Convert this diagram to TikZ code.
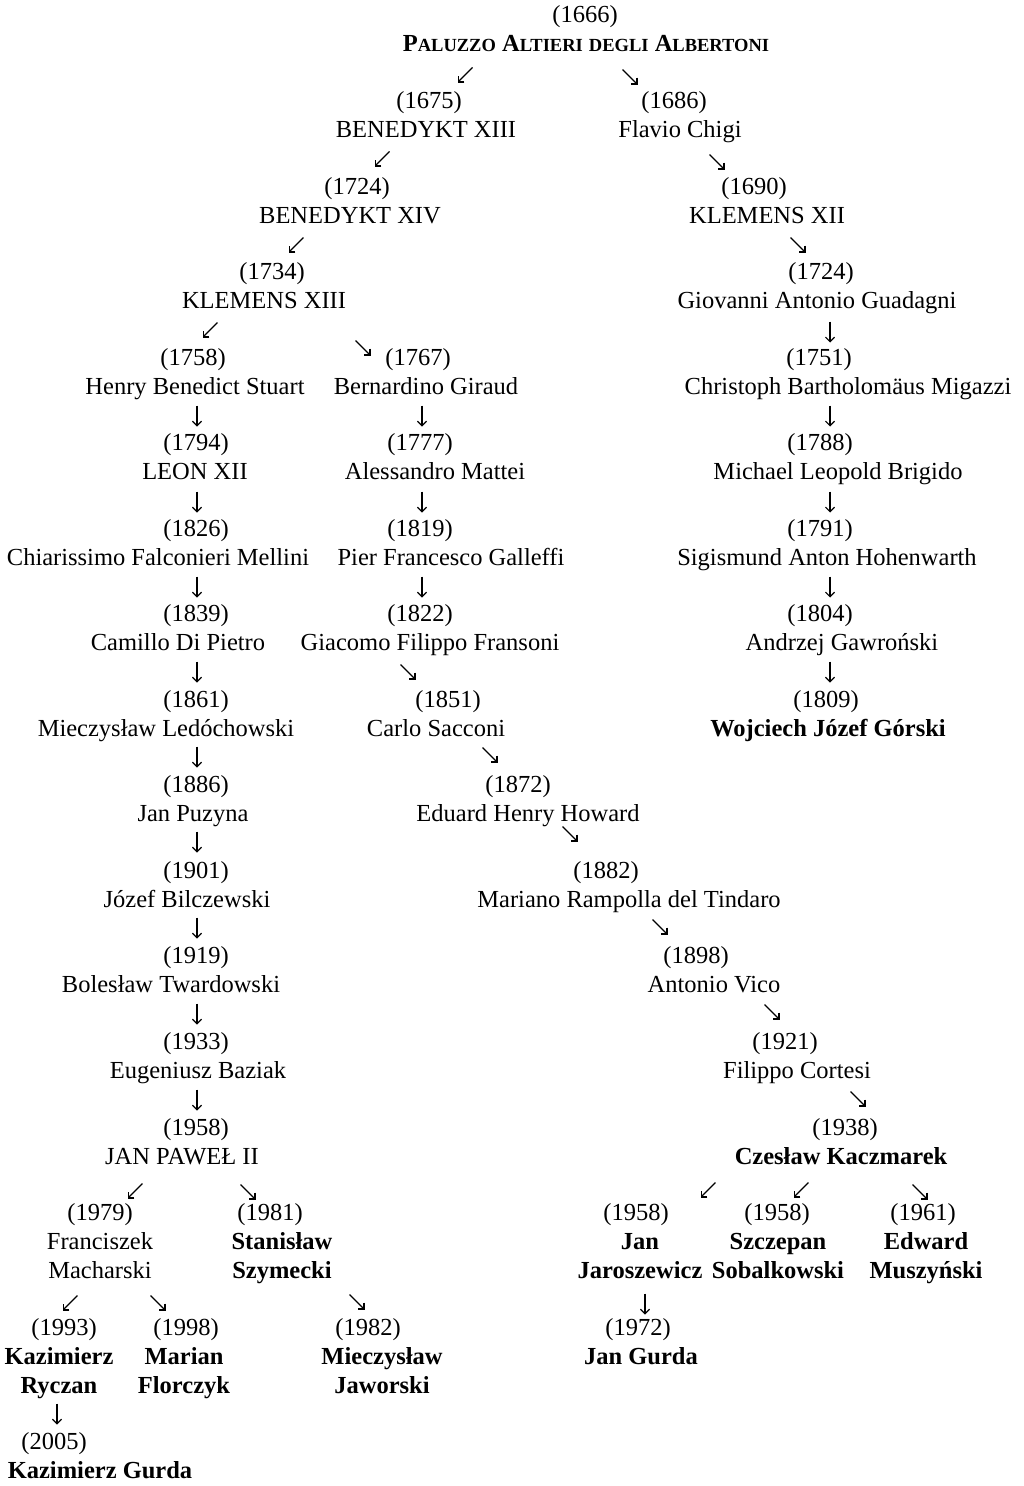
\documentclass[tikz,border=0pt]{standalone}
\usepackage{fontspec}
\usetikzlibrary{arrows.meta}
\setmainfont{Liberation Serif}
\newcommand\smc[1]{{\fontsize{18.5}{18.5}\selectfont #1}}

\tikzset{
  arr/.style={line width=1.2pt,-{Straight Barb[length=4.5pt,width=9pt]}},
  sw/.pic={\draw[arr] (7.5,-7.5) -- (-7.5,7.5);},
  se/.pic={\draw[arr] (-7.5,-7.5) -- (7.5,7.5);},
  dn/.pic={\draw[arr] (0,-10.5) -- (0,10.5);}
}

\begin{document}
\begin{tikzpicture}[x=1pt,y=-1pt,
  every node/.style={inner sep=0pt,anchor=base,align=center,yshift=-2pt,font=\fontsize{24.5}{29}\selectfont},
  nm/.style={font=\fontsize{24.5}{29}\selectfont\bfseries}]
\useasboundingbox (0,0) rectangle (1024,1486);

\node (y1666) at (585,20) {(1666)};
\node[nm] (paluzzo) at (586,49) {P\smc{ALUZZO} A\smc{LTIERI} \smc{DEGLI} A\smc{LBERTONI}};

\node (y1675) at (429,106) {(1675)};
\node (ben13) at (426,135) {BENEDYKT XIII};
\node (y1686) at (674,106) {(1686)};
\node (chigi) at (680,135) {Flavio Chigi};

\node (y1724a) at (357,192) {(1724)};
\node (ben14) at (350,221) {BENEDYKT XIV};
\node (y1690) at (754,192) {(1690)};
\node (klem12) at (767,221) {KLEMENS XII};

\node (y1734) at (272,277) {(1734)};
\node (klem13) at (264,306) {KLEMENS XIII};
\node (y1724b) at (821,277) {(1724)};
\node (guadagni) at (817,306) {Giovanni Antonio Guadagni};

\node (y1758) at (193,363) {(1758)};
\node (stuart) at (195,392) {Henry Benedict Stuart};
\node (y1767) at (418,363) {(1767)};
\node (giraud) at (426,392) {Bernardino Giraud};
\node (y1751) at (819,363) {(1751)};
\node (migazzi) at (848,392) {Christoph Bartholomäus Migazzi};

\node (y1794) at (196,448) {(1794)};
\node (leon12) at (195,477) {LEON XII};
\node (y1777) at (420,448) {(1777)};
\node (mattei) at (435,477) {Alessandro Mattei};
\node (y1788) at (820,448) {(1788)};
\node (brigido) at (838,477) {Michael Leopold Brigido};

\node (y1826) at (196,534) {(1826)};
\node (mellini) at (158,563) {Chiarissimo Falconieri Mellini};
\node (y1819) at (420,534) {(1819)};
\node (galleffi) at (451,563) {Pier Francesco Galleffi};
\node (y1791) at (820,534) {(1791)};
\node (hohenwarth) at (827,563) {Sigismund Anton Hohenwarth};

\node (y1839) at (196,619) {(1839)};
\node (dipietro) at (178,648) {Camillo Di Pietro};
\node (y1822) at (420,619) {(1822)};
\node (fransoni) at (430,648) {Giacomo Filippo Fransoni};
\node (y1804) at (820,619) {(1804)};
\node (gawronski) at (842,648) {Andrzej Gawroński};

\node (y1861) at (196,705) {(1861)};
\node (ledochowski) at (166,734) {Mieczysław Ledóchowski};
\node (y1851) at (448,705) {(1851)};
\node (sacconi) at (436,734) {Carlo Sacconi};
\node (y1809) at (826,705) {(1809)};
\node[nm] (gorski) at (828,734) {Wojciech Józef Górski};

\node (y1886) at (196,790) {(1886)};
\node (puzyna) at (193,819) {Jan Puzyna};
\node (y1872) at (518,790) {(1872)};
\node (howard) at (528,819) {Eduard Henry Howard};

\node (y1901) at (196,876) {(1901)};
\node (bilczewski) at (187,905) {Józef Bilczewski};
\node (y1882) at (606,876) {(1882)};
\node (rampolla) at (629,905) {Mariano Rampolla del Tindaro};

\node (y1919) at (196,961) {(1919)};
\node (twardowski) at (171,990) {Bolesław Twardowski};
\node (y1898) at (696,961) {(1898)};
\node (vico) at (714,990) {Antonio Vico};

\node (y1933) at (196,1047) {(1933)};
\node (baziak) at (198,1076) {Eugeniusz Baziak};
\node (y1921) at (785,1047) {(1921)};
\node (cortesi) at (797,1076) {Filippo Cortesi};

\node (y1958a) at (196,1133) {(1958)};
\node (jp2) at (182,1162) {JAN PAWEŁ II};
\node (y1938) at (845,1133) {(1938)};
\node[nm] (kaczmarek) at (841,1162) {Czesław Kaczmarek};

% two-line names sit on the baseline of their last line
\node (y1979) at (100,1218) {(1979)};
\node (macharski) at (100,1276) {Franciszek\\Macharski};
\node (y1981) at (270,1218) {(1981)};
\node[nm] (szymecki) at (282,1276) {Stanisław\\Szymecki};
\node (y1958b) at (636,1218) {(1958)};
\node[nm] (jaroszewicz) at (640,1276) {Jan\\Jaroszewicz};
\node (y1958c) at (777,1218) {(1958)};
\node[nm] (sobalkowski) at (778,1276) {Szczepan\\Sobalkowski};
\node (y1961) at (923,1218) {(1961)};
\node[nm] (muszynski) at (926,1276) {Edward\\Muszyński};

\node (y1993) at (64,1333) {(1993)};
\node[nm] (ryczan) at (59,1391) {Kazimierz\\Ryczan};
\node (y1998) at (186,1333) {(1998)};
\node[nm] (florczyk) at (184,1391) {Marian\\Florczyk};
\node (y1982) at (368,1333) {(1982)};
\node[nm] (jaworski) at (382,1391) {Mieczysław\\Jaworski};
\node (y1972) at (638,1333) {(1972)};
\node[nm] (jgurda) at (641,1362) {Jan Gurda};

\node (y2005) at (54,1447) {(2005)};
\node[nm] (kgurda) at (100,1476) {Kazimierz Gurda};

% arrows
\pic at (465,73) {sw};
\pic at (630,75) {se};
\pic at (382,157) {sw};
\pic at (717,160) {se};
\pic at (296,243) {sw};
\pic at (798,243) {se};
\pic at (210,328) {sw};
\pic at (363,346) {se};
\pic at (830,330) {dn};
\pic at (197,414) {dn};
\pic at (422,414) {dn};
\pic at (830,414) {dn};
\pic at (197,500) {dn};
\pic at (422,500) {dn};
\pic at (830,500) {dn};
\pic at (197,585) {dn};
\pic at (422,585) {dn};
\pic at (830,585) {dn};
\pic at (197,670) {dn};
\pic at (408,670) {se};
\pic at (830,670) {dn};
\pic at (197,755) {dn};
\pic at (490,753) {se};
\pic at (197,840) {dn};
\pic at (570,832) {se};
\pic at (197,926) {dn};
\pic at (660,925) {se};
\pic at (197,1012) {dn};
\pic at (772,1010) {se};
\pic at (197,1098) {dn};
\pic at (858,1097) {se};
\pic at (135,1189) {sw};
\pic at (248,1190) {se};
\pic at (708,1188) {sw};
\pic at (801,1188) {sw};
\pic at (920,1190) {se};
\pic at (70,1301) {sw};
\pic at (158,1301) {se};
\pic at (357,1300) {se};
\pic at (645,1302) {dn};
\pic at (57,1412) {dn};
\end{tikzpicture}
\end{document}
